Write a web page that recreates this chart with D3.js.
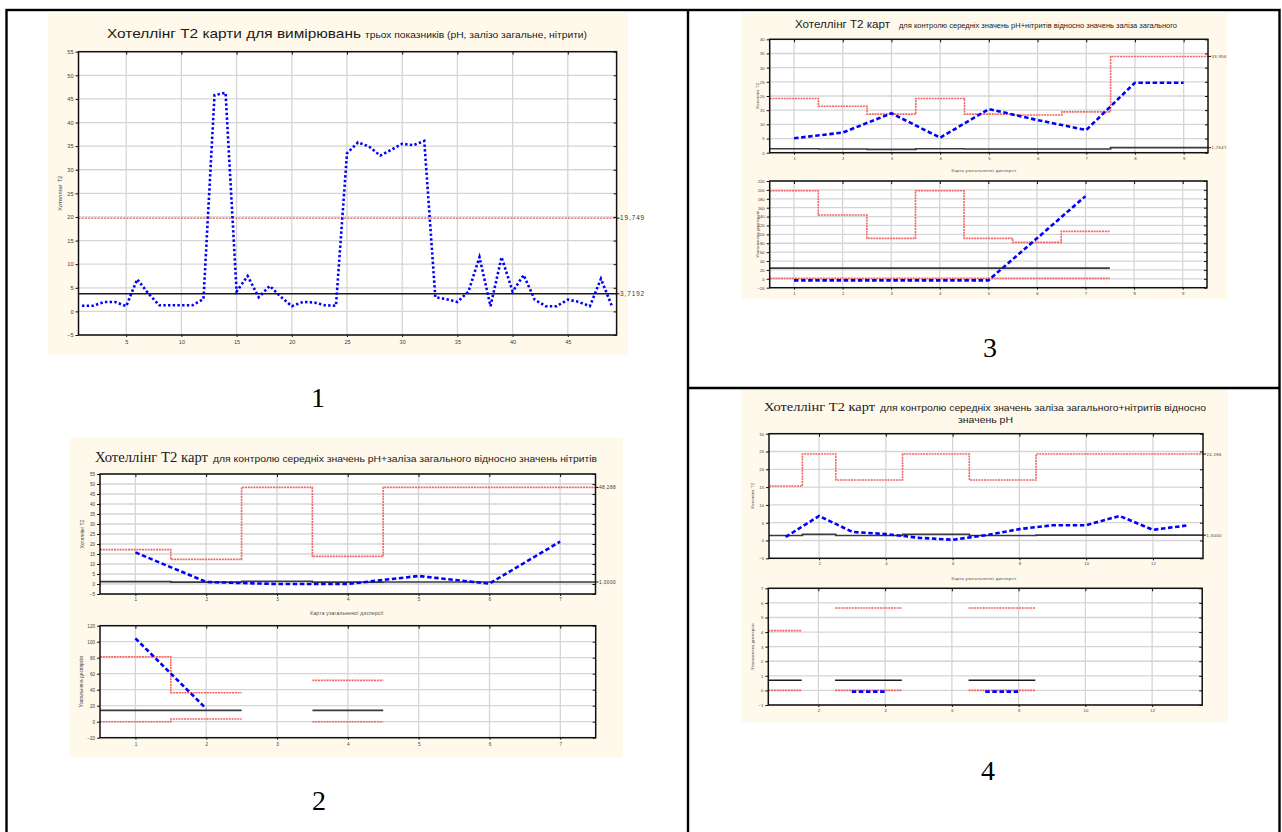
<!DOCTYPE html>
<html>
<head>
<meta charset="utf-8">
<script src="https://cdn.jsdelivr.net/npm/d3@7"></script>
<style>
  html, body { margin: 0; padding: 0; background: #ffffff; }
  svg { display: block; font-family: "Liberation Sans", Arial, sans-serif; }
</style>
</head>
<body>
<svg id="fig" width="1282" height="832"></svg>
<script>
// ---------- Chart 1: T² for the three indicators (pH, total iron, nitrites) ----------
const p1XTicks = [5, 10, 15, 20, 25, 30, 35, 40, 45];
const p1YTicks = [-5, 0, 5, 10, 15, 20, 25, 30, 35, 40, 45, 50, 55];
const p1T2 = [1.2, 1.2, 2.0, 2.0, 1.1, 6.8, 3.8, 1.3, 1.3, 1.3,
              1.3, 2.6, 45.8, 46.3, 4.2, 7.5, 3.0, 5.4, 3.1, 1.1,
              2.0, 1.9, 1.3, 1.2, 33.5, 35.8, 34.9, 33.0, 34.2, 35.5,
              35.2, 36.1, 3.0, 2.6, 2.0, 4.2, 11.5, 1.1, 11.5, 4.2,
              7.7, 2.5, 1.1, 1.1, 2.5, 2.0, 1.1, 6.9, 1.1];
const p1Ucl = 19.749, p1UclLabel = "19,749";
const p1Center = 3.7192, p1CenterLabel = "3,7192";

// ---------- Chart 2: pH + total iron relative to nitrites ----------
const p2XTicks = [1, 2, 3, 4, 5, 6, 7];
const p2aYTicks = [-5, 0, 5, 10, 15, 20, 25, 30, 35, 40, 45, 50, 55];
const p2aUcl = [17.2, 12.3, 48.288, 13.8, 48.288, 48.288, 48.288];
const p2aCenter = [1.2, 0.9, 1.3, 0.9, 1.0, 1.0, 1.0];
const p2aT2 = [15.8, 1.0, 0.0, 0.0, 4.0, 0.2, 21.2];
const p2aUclLabel = "48,288", p2aCenterLabel = "1,0000";
const p2bYTicks = [-20, 0, 20, 40, 60, 80, 100, 120];
const p2bUpper = [81.25, 36.25, null, 51.7, null, null, null];
const p2bLower = [0, 3.4, null, 0, null, null, null];
const p2bCenter = [14.2, 14.2, null, 14.2, null, null, null];
const p2bVar = [104.2, 16.3, null, null, null, null, null];

// ---------- Chart 3: pH + nitrites relative to total iron ----------
const p3XTicks = [1, 2, 3, 4, 5, 6, 7, 8, 9];
const p3aYTicks = [0, 5, 10, 15, 20, 25, 30, 35, 40];
const p3aUcl = [19.1, 16.4, 13.6, 19.1, 13.6, 13.3, 14.4, 33.956, 33.956];
const p3aCenter = [1.4, 1.3, 1.2, 1.4, 1.3, 1.3, 1.3, 1.7647, 1.7647];
const p3aT2 = [5.1, 7.1, 13.9, 5.3, 15.4, 11.5, 8.0, 24.7, 24.7];
const p3aUclLabel = "33,956", p3aCenterLabel = "1,7647";
const p3bYTicks = [-20, 0, 20, 40, 60, 80, 100, 120, 140, 160, 180, 200, 220];
const p3bUpper = [198, 143.5, 91, 198, 91, 82, 106.7, null, null];
const p3bLower = [1, 1, 1, 1, 1, 1, 1, null, null];
const p3bCenter = [24.2, 24.2, 24.2, 24.2, 24.2, 24.2, 24.2, null, null];
const p3bVar = [-3.5, -3.5, -3.5, -3.5, -3.5, 91, 186, null, null];

// ---------- Chart 4: total iron + nitrites relative to pH ----------
const p4XTicks = [2, 4, 6, 8, 10, 12];
const p4aYTicks = [-5, 0, 5, 10, 15, 20, 25, 30];
const p4aUcl = [15.3, 24.286, 17.0, 17.0, 24.286, 24.286, 17.0, 17.0, 24.286, 24.286, 24.286, 24.286, 24.286];
const p4aCenter = [1.4, 1.7, 1.4, 1.4, 1.7, 1.7, 1.4, 1.4, 1.5, 1.5, 1.5, 1.5, 1.5];
const p4aT2 = [1.0, 6.9, 2.4, 1.8, 0.75, 0.2, 1.5, 3.2, 4.3, 4.3, 6.9, 3.0, 4.2];
const p4aUclLabel = "24,286", p4aCenterLabel = "1,5000";
const p4bYTicks = [-1, 0, 1, 2, 3, 4, 5, 6, 7];
const p4bUpper = [4.1, null, 5.65, 5.65, null, null, 5.65, 5.65, null, null, null, null, null];
const p4bLower = [0, null, 0, 0, null, null, 0, 0, null, null, null, null, null];
const p4bCenter = [0.7, null, 0.7, 0.7, null, null, 0.7, 0.7, null, null, null, null, null];
const p4bVar = [null, null, -0.08, -0.08, null, null, -0.08, -0.08, null, null, null, null, null];

// ---------- styles ----------
const BEIGE = "#fff9ec";
const BLUE = "#0000ff";
const RED = "#f26464";
const SANS = "Liberation Sans, Arial, sans-serif";
const SERIF = "Liberation Serif, Times New Roman, serif";
const styles = {
  blueDot:  { stroke: BLUE, width: 2.6, dash: "2.4,2.3" },
  blueDash: { stroke: BLUE, width: 2.6, dash: "4.5,2.6" },
  red:      { stroke: RED, width: 1.6, dash: "2,0.8" },
  redThin:  { stroke: "#e03a3a", width: 1.0, dash: "2,1.2" },
  black:    { stroke: "#1c1c1c", width: 1.5, dash: null },
  gray:     { stroke: "#3a3a3a", width: 1.7, dash: null }
};

const svg = d3.select("#fig");

// Beige chart backgrounds
[[48, 13, 628, 355], [70, 438, 623, 757], [742, 13, 1227, 299], [741, 390, 1228, 722]]
  .forEach(([x0, y0, x1, y1]) => {
    svg.append("rect").attr("x", x0).attr("y", y0)
      .attr("width", x1 - x0).attr("height", y1 - y0).attr("fill", BEIGE);
  });

// Points for a per-sample step line: each sample spans [i-0.5, i+0.5]
function stepPoints(vals) {
  const pts = [];
  vals.forEach((v, i) => {
    if (v == null) { pts.push({ x: i + 1, y: null }); return; }
    pts.push({ x: i + 0.5, y: v }, { x: i + 1.5, y: v });
  });
  return pts;
}
function samplePoints(vals) {
  return vals.map((v, i) => ({ x: i + 1, y: v }));
}

function drawPlot(o) {
  const x = d3.scaleLinear().domain(o.xDomain).range([o.left, o.right]);
  const y = d3.scaleLinear().domain(o.yDomain).range([o.bottom, o.top]);
  const g = svg.append("g");
  const fs = o.fontSize;

  g.append("rect").attr("x", o.left).attr("y", o.top)
    .attr("width", o.right - o.left).attr("height", o.bottom - o.top)
    .attr("fill", "#ffffff");

  // grid
  g.append("g").selectAll("line").data(o.xTicks).join("line")
    .attr("x1", d => x(d)).attr("x2", d => x(d))
    .attr("y1", o.top).attr("y2", o.bottom)
    .attr("stroke", "#d5d5d5").attr("stroke-width", 1.3);
  g.append("g").selectAll("line").data(o.yTicks).join("line")
    .attr("x1", o.left).attr("x2", o.right)
    .attr("y1", d => y(d)).attr("y2", d => y(d))
    .attr("stroke", "#d5d5d5").attr("stroke-width", 1.3);

  const clipId = "clip" + Math.round(o.left) + "_" + Math.round(o.top);
  g.append("clipPath").attr("id", clipId).append("rect")
    .attr("x", o.left).attr("y", o.top - 2)
    .attr("width", o.right - o.left).attr("height", o.bottom - o.top + 4);
  const sg = g.append("g").attr("clip-path", `url(#${clipId})`);

  const line = d3.line().defined(d => d.y != null)
    .x(d => x(d.x)).y(d => y(d.y));

  o.series.forEach(s => {
    let pts;
    if (s.kind === "step") pts = stepPoints(s.values);
    else if (s.kind === "hline") pts = [{ x: o.xDomain[0], y: s.value }, { x: o.xDomain[1], y: s.value }];
    else pts = samplePoints(s.values);
    const st = styles[s.style];
    sg.append("path").attr("d", line(pts))
      .attr("fill", "none").attr("stroke", st.stroke)
      .attr("stroke-width", st.width)
      .attr("stroke-dasharray", st.dash)
      .attr("stroke-linejoin", "miter");
  });

  // frame
  g.append("rect").attr("x", o.left).attr("y", o.top)
    .attr("width", o.right - o.left).attr("height", o.bottom - o.top)
    .attr("fill", "none").attr("stroke", "#111").attr("stroke-width", 1.5);

  const axStyle = sel => {
    sel.select(".domain").remove();
    sel.selectAll("line").attr("stroke", "#111");
    sel.selectAll("text").style("font-size", fs + "px").attr("fill", "#3c3c3c")
      .style("font-family", SANS);
  };
  g.append("g").attr("transform", `translate(${o.left},0)`)
    .call(d3.axisLeft(y).tickValues(o.yTicks).tickSize(3).tickPadding(2).tickFormat(d3.format("d")))
    .call(axStyle);
  g.append("g").attr("transform", `translate(${o.right},0)`)
    .call(d3.axisRight(y).tickValues(o.yTicks).tickSize(-3).tickFormat(""))
    .call(axStyle);
  g.append("g").attr("transform", `translate(0,${o.bottom})`)
    .call(d3.axisBottom(x).tickValues(o.xTicks).tickSize(2).tickPadding(o.xPad || 2).tickFormat(d3.format("d")))
    .call(axStyle);
  g.append("g").attr("transform", `translate(0,${o.top})`)
    .call(d3.axisTop(x).tickValues(o.xTicks).tickSize(-3).tickFormat(""))
    .call(axStyle);

  // right-side value labels
  (o.rightLabels || []).forEach(r => {
    g.append("line").attr("x1", o.right).attr("x2", o.right + 3)
      .attr("y1", y(r.value)).attr("y2", y(r.value)).attr("stroke", "#111");
    g.append("text").attr("x", o.right + 3.5).attr("y", y(r.value))
      .attr("dy", "0.35em").style("font-size", (o.labelSize || fs) + "px")
      .attr("letter-spacing", o.labelSpacing || 0.4)
      .attr("fill", "#333").text(r.text);
  });

  if (o.yTitle) {
    g.append("text")
      .attr("transform", `translate(${o.yTitleX},${(o.top + o.bottom) / 2}) rotate(-90)`)
      .attr("text-anchor", "middle").style("font-size", (o.yTitleSize || fs) + "px")
      .attr("fill", "#444").text(o.yTitle);
  }
  return { x, y };
}

// ---------- Chart 1 ----------
drawPlot({
  left: 78.5, right: 616.6, top: 51.7, bottom: 335,
  xDomain: [0.68, 49.42], yDomain: [-5, 55],
  xTicks: p1XTicks, yTicks: p1YTicks, fontSize: 5.6, xPad: 3,
  labelSize: 6.4, labelSpacing: 0.9,
  yTitle: "Хотеллінг T2", yTitleX: 62, yTitleSize: 6,
  series: [
    { kind: "hline", value: p1Ucl, style: "redThin" },
    { kind: "hline", value: p1Center, style: "black" },
    { kind: "line", values: p1T2, style: "blueDot" }
  ],
  rightLabels: [{ value: p1Ucl, text: p1UclLabel }, { value: p1Center, text: p1CenterLabel }]
});

// ---------- Chart 2 ----------
drawPlot({
  left: 100, right: 595.5, top: 474, bottom: 594,
  xDomain: [0.5, 7.5], yDomain: [-5, 55],
  xTicks: p2XTicks, yTicks: p2aYTicks, fontSize: 4.6, xPad: 2,
  labelSize: 4.8,
  yTitle: "Хотеллінг T2", yTitleX: 84, yTitleSize: 4.8,
  series: [
    { kind: "step", values: p2aUcl, style: "red" },
    { kind: "step", values: p2aCenter, style: "gray" },
    { kind: "line", values: p2aT2, style: "blueDash" }
  ],
  rightLabels: [{ value: p2aUcl[6], text: p2aUclLabel }, { value: p2aCenter[6], text: p2aCenterLabel }]
});
drawPlot({
  left: 100, right: 595.7, top: 625.7, bottom: 737.7,
  xDomain: [0.5, 7.5], yDomain: [-20, 120],
  xTicks: p2XTicks, yTicks: p2bYTicks, fontSize: 4.6, xPad: 3,
  yTitle: "Узагальнена дисперсія", yTitleX: 83, yTitleSize: 4.8,
  series: [
    { kind: "step", values: p2bUpper, style: "red" },
    { kind: "step", values: p2bLower, style: "red" },
    { kind: "step", values: p2bCenter, style: "gray" },
    { kind: "line", values: p2bVar, style: "blueDash" }
  ]
});

// ---------- Chart 3 ----------
drawPlot({
  left: 769.7, right: 1208, top: 39.3, bottom: 152.7,
  xDomain: [0.5, 9.5], yDomain: [0, 40],
  xTicks: p3XTicks, yTicks: p3aYTicks, fontSize: 4.2, xPad: 2,
  labelSize: 4.2,
  yTitle: "Хотеллінг T2", yTitleX: 759, yTitleSize: 4.4,
  series: [
    { kind: "step", values: p3aUcl, style: "red" },
    { kind: "step", values: p3aCenter, style: "gray" },
    { kind: "line", values: p3aT2, style: "blueDash" }
  ],
  rightLabels: [{ value: p3aUcl[8], text: p3aUclLabel }, { value: p3aCenter[8], text: p3aCenterLabel }]
});
drawPlot({
  left: 769.7, right: 1207, top: 181, bottom: 287.7,
  xDomain: [0.5, 9.5], yDomain: [-20, 220],
  xTicks: p3XTicks, yTicks: p3bYTicks, fontSize: 4.2, xPad: 2,
  yTitle: "Узагальнена дисперсія", yTitleX: 759, yTitleSize: 4.4,
  series: [
    { kind: "step", values: p3bUpper, style: "red" },
    { kind: "step", values: p3bLower, style: "red" },
    { kind: "step", values: p3bCenter, style: "gray" },
    { kind: "line", values: p3bVar, style: "blueDash" }
  ]
});

// ---------- Chart 4 ----------
drawPlot({
  left: 769, right: 1203, top: 433.7, bottom: 558.3,
  xDomain: [0.5, 13.5], yDomain: [-5, 30],
  xTicks: p4XTicks, yTicks: p4aYTicks, fontSize: 4.2, xPad: 2,
  labelSize: 4.2,
  yTitle: "Хотеллінг T2", yTitleX: 754, yTitleSize: 4.4,
  series: [
    { kind: "step", values: p4aUcl, style: "red" },
    { kind: "step", values: p4aCenter, style: "gray" },
    { kind: "line", values: p4aT2, style: "blueDash" }
  ],
  rightLabels: [{ value: p4aUcl[12], text: p4aUclLabel }, { value: p4aCenter[12], text: p4aCenterLabel }]
});
drawPlot({
  left: 768.3, right: 1202.2, top: 588.3, bottom: 705,
  xDomain: [0.5, 13.5], yDomain: [-1, 7],
  xTicks: p4XTicks, yTicks: p4bYTicks, fontSize: 4.2, xPad: 2,
  yTitle: "Узагальнена дисперсія", yTitleX: 754, yTitleSize: 4.4,
  series: [
    { kind: "step", values: p4bUpper, style: "red" },
    { kind: "step", values: p4bLower, style: "red" },
    { kind: "step", values: p4bCenter, style: "black" },
    { kind: "line", values: p4bVar, style: "blueDash" }
  ]
});

// ---------- titles ----------
function title(x, yBase, txt, size, family, len, color) {
  svg.append("text").attr("x", x).attr("y", yBase)
    .style("font-size", size + "px").style("font-family", family)
    .attr("fill", color || "#1a1a1a")
    .attr("textLength", len).attr("lengthAdjust", "spacingAndGlyphs")
    .text(txt);
}

title(107, 38, "Хотеллінг Т2 карти для вимірювань", 13.5, SANS, 254);
title(365, 38, "трьох показників (pH, залізо загальне, нітрити)", 8.8, SANS, 222);

title(95, 462, "Хотеллінг Т2  карт", 14.5, SERIF, 113);
title(213, 462, "для контролю середніх значень pH+заліза загального відносно значень нітритів", 8.6, SANS, 384);

title(795, 28, "Хотеллінг Т2 карт", 10.5, SANS, 95);
title(899, 28, "для контролю середніх значень pH+нітритів відносно значень заліза загального", 6.6, SANS, 278);

title(764, 411, "Хотеллінг Т2  карт", 13, SERIF, 111);
title(880, 411, "для контролю середніх значень заліза загального+нітритів відносно", 8.4, SANS, 326);
title(958, 423, "значень pH", 8.4, SANS, 55);

// titles of the generalized-variance charts
[[347, 615, 4.8], [984, 172, 4.2], [984, 580, 4.2]].forEach(([cx, cy, s]) => {
  svg.append("text").attr("x", cx).attr("y", cy).attr("text-anchor", "middle")
    .style("font-size", s + "px").attr("fill", "#444").attr("letter-spacing", 0.3)
    .text("Карта узагальненої дисперсії");
});

// ---------- figure numbers ----------
[[318, 407, "1"], [319, 810, "2"], [990, 357, "3"], [988, 780, "4"]].forEach(([cx, by, t]) => {
  svg.append("text").attr("x", cx).attr("y", by).attr("text-anchor", "middle")
    .style("font-family", SERIF).style("font-size", "28px").attr("fill", "#000").text(t);
});

// ---------- table rules ----------
const rules = svg.append("g").attr("stroke", "#000").attr("stroke-width", 2.4).attr("fill", "none");
rules.append("rect").attr("x", 6.5).attr("y", 10).attr("width", 1273).attr("height", 840);
rules.append("line").attr("x1", 688).attr("x2", 688).attr("y1", 10).attr("y2", 832);
rules.append("line").attr("x1", 688).attr("x2", 1280).attr("y1", 388).attr("y2", 388);
</script>
</body>
</html>
